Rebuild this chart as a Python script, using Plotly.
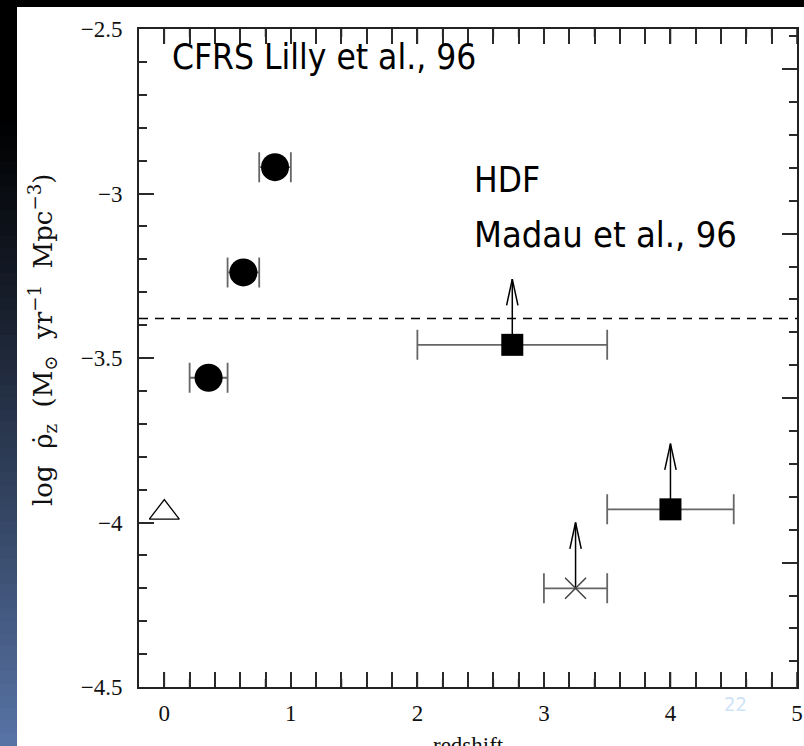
import plotly.graph_objects as go

# CFRS points (Lilly et al. 96)
cfrs_z = [0.35, 0.625, 0.875]
cfrs_rho = [-3.56, -3.24, -2.92]
cfrs_zerr = [0.15, 0.125, 0.125]

# HDF lower limits (Madau et al. 96)
hdf_z = [2.75, 4.0]
hdf_rho = [-3.46, -3.96]
hdf_zerr = [0.75, 0.5]

# other high-z lower limit
cross_z = [3.25]
cross_rho = [-4.2]
cross_zerr = [0.25]

# local value
local_z = [0.0]
local_rho = [-3.97]

dash_level = -3.38

W, H = 804, 746
# plot frame in pixels
FL, FR, FT, FB = 139, 797, 29, 687
X_RANGE = [-0.2, 5]
Y_RANGE = [-4.5, -2.5]

ARROW_LEN = 0.2
HEAD_DX = 0.045
HEAD_DY = 0.08

SERIF = "Liberation Serif, DejaVu Serif, serif"
SLIDE = "DejaVu Sans Condensed, Lato, sans-serif"
TICK = "#2a2a2a"


def px_x(p):
    return p / W


def px_y(p):
    return 1 - p / H


def arrows(xs, ys):
    ax, ay = [], []
    for x, y in zip(xs, ys):
        tip = y + ARROW_LEN
        ax += [x, x, None, x - HEAD_DX, x, x + HEAD_DX, None]
        ay += [y, tip, None, tip - HEAD_DY, tip, tip - HEAD_DY, None]
    return ax, ay


def frame_ticks():
    # inside ticks on the bottom and top edges of the frame
    per_px = (Y_RANGE[1] - Y_RANGE[0]) / (FB - FT)
    tx, ty = [], []
    for i in range(26):
        x = i * 0.2
        ln = (15 if i % 5 == 0 else 8) * per_px
        tx += [x, x, None, x, x, None]
        ty += [Y_RANGE[0], Y_RANGE[0] + ln, None, Y_RANGE[1], Y_RANGE[1] - ln, None]
    return tx, ty


# slide background: white page, black top strip, dark-to-blue left strip
shapes = [dict(type="rect", xref="paper", yref="paper", x0=px_x(17), x1=1,
               y0=0, y1=px_y(7), fillcolor="white", line=dict(width=0), layer="below")]
bands = 60
for i in range(bands):
    t = (i + 0.5) / bands
    k = max(0.0, (t - 0.15) / 0.85) ** 1.1
    col = f"rgb({int(88 * k)},{int(116 * k)},{int(166 * k)})"
    shapes.append(dict(type="rect", xref="paper", yref="paper", x0=0, x1=px_x(17),
                       y0=px_y(H * (i + 1) / bands), y1=px_y(H * i / bands) + 0.001,
                       fillcolor=col, line=dict(width=0), layer="below"))

tick_style = dict(ticks="inside", ticklen=15, tickwidth=1.6, tickcolor=TICK)
minor_x = dict(ticks="inside", dtick=0.2, ticklen=8, tickwidth=1.6, tickcolor=TICK, showgrid=False)
minor_y = dict(ticks="inside", dtick=0.1, ticklen=8, tickwidth=1.6, tickcolor=TICK, showgrid=False)
label_font = dict(family=SERIF, size=23, color="#111111")

fig = go.Figure()
fig.update_layout(
    width=W, height=H,
    margin=dict(l=0, r=0, t=0, b=0, autoexpand=False),
    paper_bgcolor="black", plot_bgcolor="white",
    shapes=shapes,
    xaxis=dict(
        domain=[px_x(FL), px_x(FR)], range=X_RANGE, anchor="y",
        tickmode="linear", tick0=0, dtick=1, mirror="allticks", ticklabelstandoff=4,
        showgrid=False, zeroline=False, showline=True, linecolor="#222222", linewidth=2,
        tickfont=label_font, minor=minor_x, **tick_style,
    ),
    yaxis=dict(
        domain=[px_y(FB), px_y(FT)], range=Y_RANGE, anchor="x",
        tickmode="linear", tick0=-2.5, dtick=0.5, mirror=True, ticklabelstandoff=10,
        showgrid=False, zeroline=False, showline=True, linecolor="#222222", linewidth=2,
        tickfont=label_font, minor=minor_y, **tick_style,
    ),
    # the right-hand ticks of the scanned frame sit slightly lower than the left ones
    yaxis2=dict(
        overlaying="y", side="right", anchor="x", range=[-4.378, -2.378],
        tickmode="linear", tick0=-2.5, dtick=0.5, showticklabels=False,
        showgrid=False, zeroline=False, showline=False,
        minor=minor_y, **tick_style,
    ),
    annotations=[
        dict(text="log  ρ̇<sub>z</sub>  (M<sub>⊙</sub>  yr<sup>−1</sup>  Mpc<sup>−3</sup>)",
             xref="paper", yref="paper", x=px_x(42), y=px_y(340), textangle=-90,
             xanchor="center", yanchor="middle",
             showarrow=False, font=dict(family="DejaVu Serif, serif", size=26, color="#111111")),
        dict(text="redshift", xref="paper", yref="paper", x=px_x(468), y=px_y(745),
             xanchor="center", yanchor="middle",
             showarrow=False, font=dict(family=SERIF, size=23, color="#111111")),
        dict(text="CFRS Lilly et al., 96", xref="paper", yref="paper",
             x=px_x(170), y=px_y(57), xanchor="left", yanchor="middle", showarrow=False,
             font=dict(family=SLIDE, size=35, color="black")),
        dict(text="HDF", xref="paper", yref="paper",
             x=px_x(472), y=px_y(180), xanchor="left", yanchor="middle", showarrow=False,
             font=dict(family=SLIDE, size=35, color="black")),
        dict(text="Madau et al., 96", xref="paper", yref="paper",
             x=px_x(472), y=px_y(234), xanchor="left", yanchor="middle", showarrow=False,
             font=dict(family=SLIDE, size=36, color="black")),
        dict(text="22", xref="paper", yref="paper",
             x=px_x(735), y=px_y(704), xanchor="center", yanchor="middle", showarrow=False,
             font=dict(family=SLIDE, size=20, color="#cfe3f8")),
    ],
)

tk_x, tk_y = frame_ticks()
fig.add_trace(go.Scatter(
    x=tk_x, y=tk_y, mode="lines", cliponaxis=False,
    line=dict(color=TICK, width=1.6),
    showlegend=False, hoverinfo="skip",
))

err_style = dict(type="data", color="#666666", thickness=1.8, width=15)

fig.add_trace(go.Scatter(
    x=cfrs_z, y=cfrs_rho, mode="markers",
    marker=dict(symbol="circle", size=28, color="black"),
    error_x=dict(array=cfrs_zerr, **err_style),
    showlegend=False,
))

lim_x, lim_y = arrows(hdf_z + cross_z, hdf_rho + cross_rho)
fig.add_trace(go.Scatter(
    x=lim_x, y=lim_y, mode="lines",
    line=dict(color="black", width=1.5),
    showlegend=False, hoverinfo="skip",
))

fig.add_trace(go.Scatter(
    x=hdf_z, y=hdf_rho, mode="markers",
    marker=dict(symbol="square", size=22, color="black"),
    error_x=dict(array=hdf_zerr, **err_style),
    showlegend=False,
))

fig.add_trace(go.Scatter(
    x=cross_z, y=cross_rho, mode="markers",
    marker=dict(symbol="x-thin-open", size=21, color="#444444",
                line=dict(color="#444444", width=1.5)),
    error_x=dict(array=cross_zerr, **err_style),
    showlegend=False,
))

fig.add_trace(go.Scatter(
    x=local_z, y=local_rho, mode="markers",
    marker=dict(symbol="triangle-up-open", size=26, color="black",
                line=dict(color="black", width=1.3)),
    showlegend=False,
))

# empty trace so the shifted right-hand tick axis is drawn
fig.add_trace(go.Scatter(x=[None], y=[None], yaxis="y2", showlegend=False))

fig.add_hline(y=dash_level, line=dict(color="black", width=1.3, dash="9px,7px"))

fig.write_html(
    "out.html",
    config={"displayModeBar": False},
    post_script="document.body.style.margin='0';document.body.style.background='black';",
)
